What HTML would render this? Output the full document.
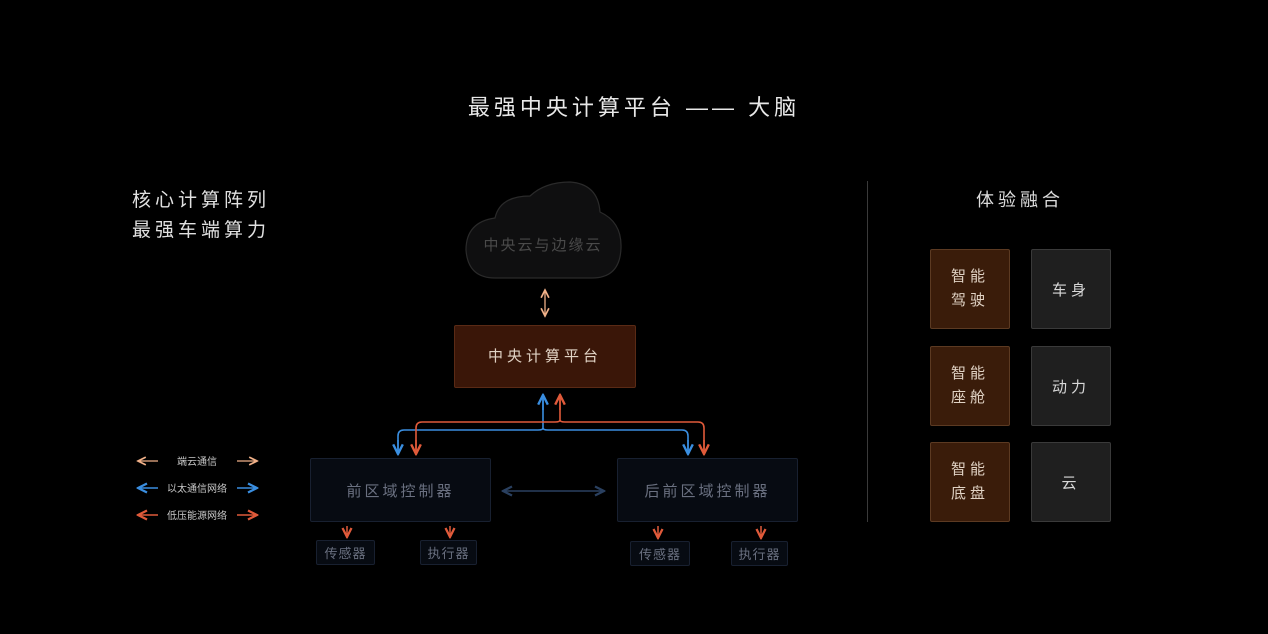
<!DOCTYPE html>
<html><head><meta charset="utf-8"><style>
body{margin:0;width:1268px;height:634px;background:#000;overflow:hidden;position:relative;font-family:"Liberation Sans","Noto Sans CJK SC",sans-serif}
.t{position:absolute;white-space:nowrap}
.b{position:absolute;box-sizing:border-box;display:flex;align-items:center;justify-content:center;text-align:center;border-radius:2px}
.br{background:#3a1c0a;border:1px solid #5c3a22;color:#e0d2c4;font-size:15px;letter-spacing:4px;line-height:24px}
.gr{background:#1f1f1f;border:1px solid #3a3a3a;color:#d8d8d8;font-size:15px;letter-spacing:4px}
.ct{background:#070b12;border:1px solid #182030;color:#6a7080;font-size:15px;letter-spacing:3px}
.sm{background:#070b12;border:1px solid #182030;color:#6a7080;font-size:13px;letter-spacing:1px}
</style></head><body>
<div class="t" style="left:0;width:1268px;top:90px;text-align:center;color:#e8e8e8;font-size:22px;letter-spacing:4px">最强中央计算平台 —— 大脑</div>
<div class="t" style="left:132px;top:186px;color:#e0e0e0;font-size:19px;letter-spacing:4px;line-height:30px">核心计算阵列<br>最强车端算力</div>
<div class="t" style="left:976px;top:186px;color:#dcdcdc;font-size:18px;letter-spacing:4px">体验融合</div>
<div style="position:absolute;left:867px;top:181px;width:1px;height:341px;background:#3a3a3a"></div>
<svg style="position:absolute;left:0;top:0" width="1268" height="634">
<defs>
<marker id="o" markerWidth="8" markerHeight="8" refX="7" refY="4" orient="auto-start-reverse"><path d="M1,1 L7,4 L1,7" fill="none" stroke="#f0b088" stroke-width="1.3"/></marker>
<marker id="bl" markerWidth="8" markerHeight="8" refX="7" refY="4" orient="auto-start-reverse"><path d="M1,1 L7,4 L1,7" fill="none" stroke="#3a8ee0" stroke-width="1.5"/></marker>
<marker id="rd" markerWidth="8" markerHeight="8" refX="7" refY="4" orient="auto-start-reverse"><path d="M1,1 L7,4 L1,7" fill="none" stroke="#e05a3a" stroke-width="1.5"/></marker>
<marker id="nv" markerWidth="8" markerHeight="8" refX="7" refY="4" orient="auto-start-reverse"><path d="M1,1 L7,4 L1,7" fill="none" stroke="#2a4060" stroke-width="1.5"/></marker>
</defs>
<path d="M495,278 Q468,278 466,250 Q466,222 495,218 Q500,196 530,196 Q545,182 570,182 Q598,184 600,212 Q622,222 621,248 Q620,278 592,278 Z" fill="#0f0f10" stroke="#2a2a2a" stroke-width="1.2"/>
<text x="543" y="250" text-anchor="middle" fill="#4a4a4a" font-size="15" letter-spacing="2" font-family="Liberation Sans,Noto Sans CJK SC,sans-serif">中央云与边缘云</text>
<line x1="545" y1="290" x2="545" y2="316" stroke="#f0b088" stroke-width="1.3" marker-start="url(#o)" marker-end="url(#o)"/>
<path d="M543,428 L543,395 M543,428 Q543,430 538,430 L404,430 Q398,430 398,436 L398,454 M543,428 Q543,430 548,430 L682,430 Q688,430 688,436 L688,454" fill="none" stroke="#3a8ee0" stroke-width="1.6"/>
<line x1="543" y1="410" x2="543" y2="395" stroke="#3a8ee0" stroke-width="1.6" marker-end="url(#bl)"/>
<line x1="398" y1="440" x2="398" y2="454" stroke="#3a8ee0" stroke-width="1.6" marker-end="url(#bl)"/>
<line x1="688" y1="440" x2="688" y2="454" stroke="#3a8ee0" stroke-width="1.6" marker-end="url(#bl)"/>
<path d="M560,420 L560,395 M560,420 Q560,422 555,422 L422,422 Q416,422 416,428 L416,454 M560,420 Q560,422 565,422 L698,422 Q704,422 704,428 L704,454" fill="none" stroke="#e05a3a" stroke-width="1.6"/>
<line x1="560" y1="410" x2="560" y2="395" stroke="#e05a3a" stroke-width="1.6" marker-end="url(#rd)"/>
<line x1="416" y1="440" x2="416" y2="454" stroke="#e05a3a" stroke-width="1.6" marker-end="url(#rd)"/>
<line x1="704" y1="440" x2="704" y2="454" stroke="#e05a3a" stroke-width="1.6" marker-end="url(#rd)"/>
<line x1="503" y1="491" x2="604" y2="491" stroke="#2a4060" stroke-width="1.5" marker-start="url(#nv)" marker-end="url(#nv)"/>
<g stroke="#e05a3a" stroke-width="1.5">
<line x1="347" y1="526" x2="347" y2="537" marker-end="url(#rd)"/>
<line x1="450" y1="526" x2="450" y2="537" marker-end="url(#rd)"/>
<line x1="658" y1="526" x2="658" y2="538" marker-end="url(#rd)"/>
<line x1="761" y1="526" x2="761" y2="538" marker-end="url(#rd)"/>
</g>
<line x1="138" y1="461" x2="158" y2="461" stroke="#f0b088" stroke-width="1.3" marker-start="url(#o)"/>
<line x1="237" y1="461" x2="257" y2="461" stroke="#f0b088" stroke-width="1.3" marker-end="url(#o)"/>
<line x1="138" y1="488" x2="158" y2="488" stroke="#3a8ee0" stroke-width="1.5" marker-start="url(#bl)"/>
<line x1="237" y1="488" x2="257" y2="488" stroke="#3a8ee0" stroke-width="1.5" marker-end="url(#bl)"/>
<line x1="138" y1="515" x2="158" y2="515" stroke="#e05a3a" stroke-width="1.5" marker-start="url(#rd)"/>
<line x1="237" y1="515" x2="257" y2="515" stroke="#e05a3a" stroke-width="1.5" marker-end="url(#rd)"/>
<g fill="#c8c8c8" font-size="10" font-family="Liberation Sans,Noto Sans CJK SC,sans-serif" text-anchor="middle">
<text x="197" y="465">端云通信</text><text x="197" y="492">以太通信网络</text><text x="197" y="519">低压能源网络</text></g>
</svg>
<div class="b br" style="left:454px;top:325px;width:182px;height:63px;background:#3a1608;border-color:#5a2a15">中央计算平台</div>
<div class="b ct" style="left:310px;top:458px;width:181px;height:64px">前区域控制器</div>
<div class="b ct" style="left:617px;top:458px;width:181px;height:64px">后前区域控制器</div>
<div class="b sm" style="left:316px;top:540px;width:59px;height:25px">传感器</div>
<div class="b sm" style="left:420px;top:540px;width:57px;height:25px">执行器</div>
<div class="b sm" style="left:630px;top:541px;width:60px;height:25px">传感器</div>
<div class="b sm" style="left:731px;top:541px;width:57px;height:25px">执行器</div>
<div class="b br" style="left:930px;top:249px;width:80px;height:80px">智能<br>驾驶</div>
<div class="b br" style="left:930px;top:346px;width:80px;height:80px">智能<br>座舱</div>
<div class="b br" style="left:930px;top:442px;width:80px;height:80px">智能<br>底盘</div>
<div class="b gr" style="left:1031px;top:249px;width:80px;height:80px">车身</div>
<div class="b gr" style="left:1031px;top:346px;width:80px;height:80px">动力</div>
<div class="b gr" style="left:1031px;top:442px;width:80px;height:80px">云</div>
</body></html>
